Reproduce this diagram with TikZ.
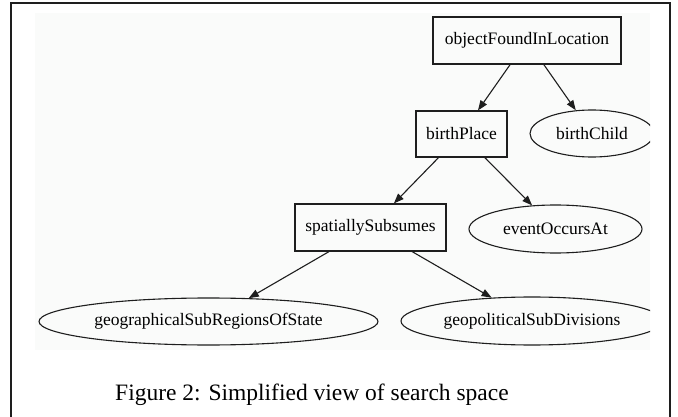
\documentclass[tikz,border=0pt]{standalone}
\usepackage{fontspec}
\setmainfont{Liberation Serif}
\usetikzlibrary{shapes.geometric,arrows.meta}
\definecolor{bgc}{RGB}{250,251,250}
\definecolor{ink}{RGB}{30,30,30}
\begin{document}
\begin{tikzpicture}[x=1pt,y=-1pt,
  lbl/.style={font=\fontsize{17.5}{20}\selectfont,text=black},
  box/.style={lbl,draw=ink,line width=1.1pt,rectangle,inner sep=0pt},
  oval/.style={lbl,draw=ink,line width=1.1pt,ellipse,inner sep=0pt},
  edge/.style={draw=ink,line width=1.1pt,-{Triangle[length=10pt,width=7.5pt]}},
]
\useasboundingbox (0,0) rectangle (678,417);
\fill[bgc] (35,13) rectangle (650,350);
\begin{scope}
\clip (35,13) rectangle (650,350);
\node[box,minimum width=188pt,minimum height=47pt] (ofl) at (527,40.5) {objectFoundInLocation};
\node[box,minimum width=91pt,minimum height=46pt] (bp) at (461.5,134) {birthPlace};
\node[oval,minimum width=124pt,minimum height=47pt] (bc) at (592,133.5) {birthChild};
\node[box,minimum width=151pt,minimum height=47pt] (ss) at (370.5,227.5) {spatiallySubsumes};
\node[oval,minimum width=173pt,minimum height=48pt] (eoa) at (555.5,229) {eventOccursAt};
\node[oval,minimum width=339pt,minimum height=47pt] (geo) at (208.5,321.5) {geographicalSubRegionsOfState};
\node[oval,minimum width=262pt,minimum height=48pt] (gp) at (532,321) {geopoliticalSubDivisions};
\draw[edge] (ofl) -- (bp);
\draw[edge] (ofl) -- (bc);
\draw[edge] (bp) -- (ss);
\draw[edge] (bp) -- (eoa);
\draw[edge] (ss) -- (geo);
\draw[edge] (ss) -- (gp);
\end{scope}
\draw[line width=2pt,draw=ink] (11,418) -- (11,3) -- (670,3) -- (670,418);
\node[anchor=base west,inner sep=0pt,font=\fontsize{23.5}{28}\selectfont] (cap) at (115,400) {Figure 2: Simplified view of search space};
\end{tikzpicture}
\end{document}
